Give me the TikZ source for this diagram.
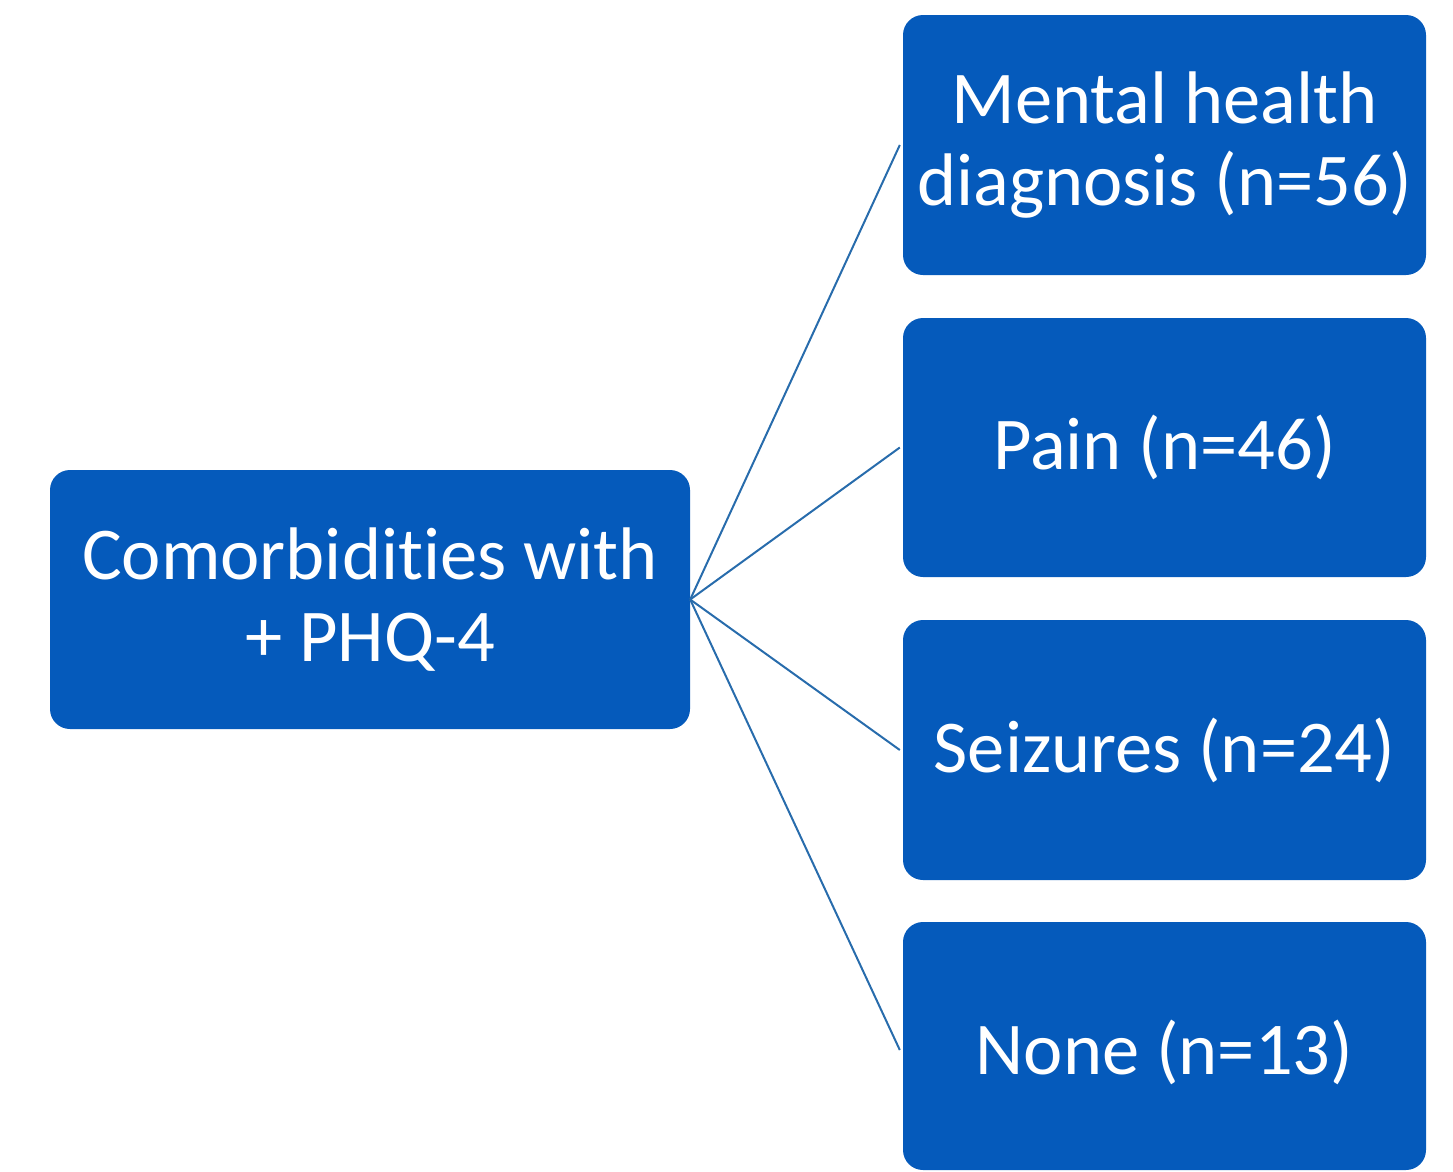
\documentclass[tikz,border=0pt]{standalone}
\usepackage{fontspec}
\setmainfont{Carlito}[Ligatures=NoCommon]
\definecolor{boxblue}{RGB}{5,90,187}
\definecolor{lineblue}{RGB}{40,108,172}
\begin{document}
\begin{tikzpicture}[x=1pt,y=-1pt,
  box/.style={fill=boxblue, rounded corners=20pt, text=white, align=center,
    font=\fontsize{74.5}{82}\selectfont, inner sep=0pt},
  boxtext/.style={text=white, align=center, font=\fontsize{74.5}{82}\selectfont, inner sep=0pt},
  conn/.style={draw=lineblue, line width=2pt}]
\useasboundingbox (0,0) rectangle (1453,1171);
\node[box, minimum width=640pt, minimum height=259pt] (L) at (370,599.5) {Comorbidities with\\+ PHQ-4};
\node[box, minimum width=523pt, minimum height=260pt] (m1) at (1164.5,145) {Mental health\\diagnosis (n=56)};
\node[box, minimum width=523pt, minimum height=259pt] (m2) at (1164.5,447.5) {Pain (n=46)};
\node[box, minimum width=523pt, minimum height=260pt] (m3) at (1164.5,750) {Seizures (n=24)};
\node[box, minimum width=523pt, minimum height=248pt] (m4) at (1164.5,1046) {};
\node[boxtext] (m4t) at ([yshift=-6pt]m4.center) {None (n=13)};
\draw[conn] (L.east) -- ([xshift=-3pt]m1.west);
\draw[conn] (L.east) -- ([xshift=-3pt]m2.west);
\draw[conn] (L.east) -- ([xshift=-3pt]m3.west);
\draw[conn] (L.east) -- ([xshift=-3pt,yshift=-4pt]m4.west);
\end{tikzpicture}
\end{document}
